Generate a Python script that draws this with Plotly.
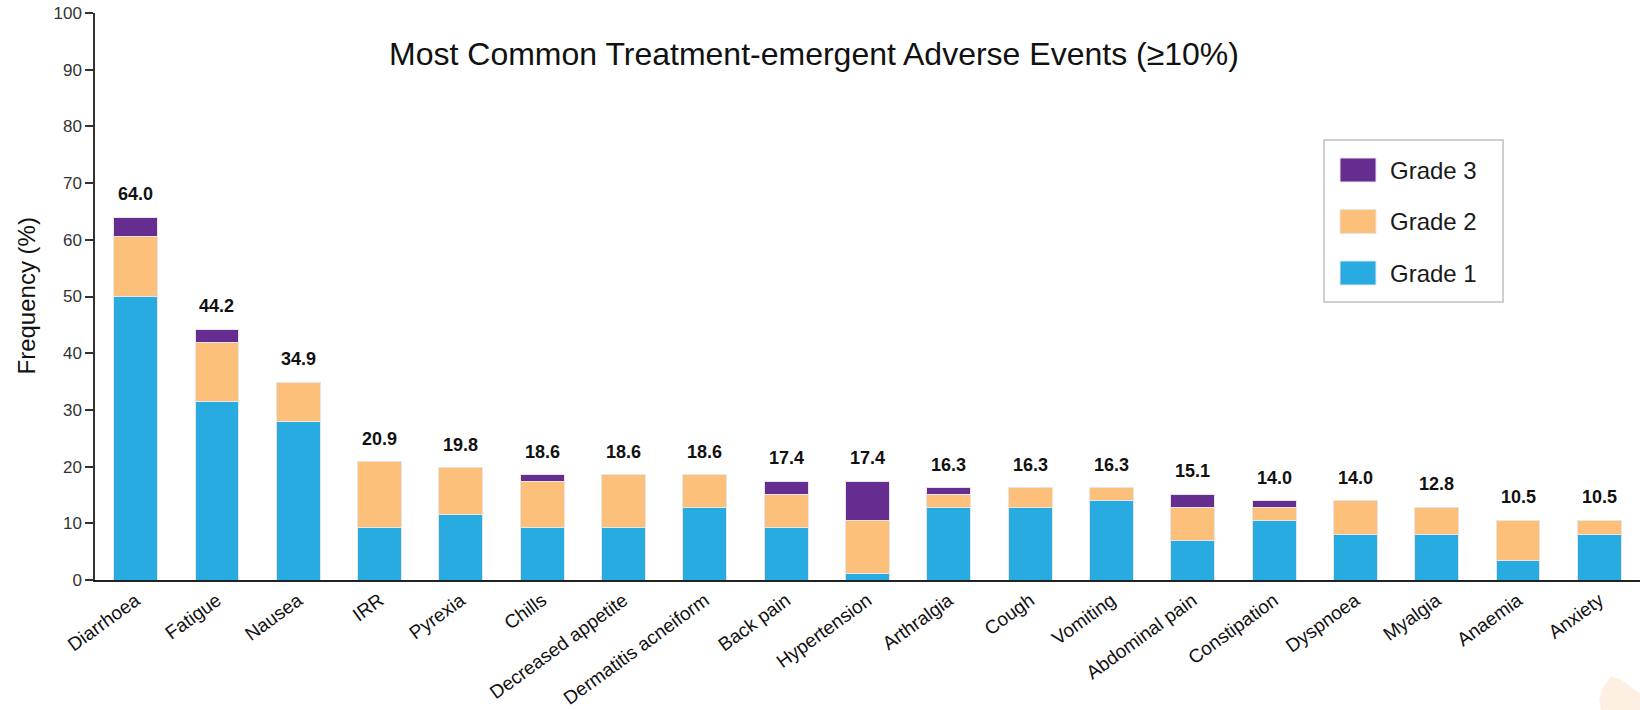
import plotly.graph_objects as go

# Adverse events, ordered by overall frequency
events = [
    "Diarrhoea", "Fatigue", "Nausea", "IRR", "Pyrexia", "Chills",
    "Decreased appetite", "Dermatitis acneiform", "Back pain", "Hypertension",
    "Arthralgia", "Cough", "Vomiting", "Abdominal pain", "Constipation",
    "Dyspnoea", "Myalgia", "Anaemia", "Anxiety",
]

# Frequency (%) by CTCAE grade
grade1 = [50.0, 31.4, 27.9, 9.3, 11.6, 9.3, 9.3, 12.8, 9.3, 1.2,
          12.8, 12.8, 14.0, 7.0, 10.5, 8.1, 8.1, 3.5, 8.1]
grade2 = [10.5, 10.5, 7.0, 11.6, 8.2, 8.1, 9.3, 5.8, 5.8, 9.3,
          2.3, 3.5, 2.3, 5.8, 2.3, 5.9, 4.7, 7.0, 2.4]
grade3 = [3.5, 2.3, 0.0, 0.0, 0.0, 1.2, 0.0, 0.0, 2.3, 6.9,
          1.2, 0.0, 0.0, 2.3, 1.2, 0.0, 0.0, 0.0, 0.0]

# Overall frequency shown above each bar
totals = [64.0, 44.2, 34.9, 20.9, 19.8, 18.6, 18.6, 18.6, 17.4, 17.4,
          16.3, 16.3, 16.3, 15.1, 14.0, 14.0, 12.8, 10.5, 10.5]

y_ticks = [0, 10, 20, 30, 40, 50, 60, 70, 80, 90, 100]

series = [
    ("Grade 1", grade1, "#27ABE1"),
    ("Grade 2", grade2, "#FCC07B"),
    ("Grade 3", grade3, "#662D91"),
]

FONT = "Arial, 'Liberation Sans', Helvetica, sans-serif"

W, H = 1640, 710
M_L, M_R, M_T, M_B = 95, 0, 13, 130
PW = W - M_L - M_R
PH = H - M_T - M_B


def px_x(x):
    """Pixel column -> paper x."""
    return (x - M_L) / PW


def px_y(y):
    """Pixel row -> paper y."""
    return (H - M_B - y) / PH


fig = go.Figure()
for name, vals, color in series:
    fig.add_trace(go.Bar(
        x=events, y=vals, name=name,
        marker=dict(color=color, line=dict(color="#e9e4e4", width=1)),
        showlegend=False,
        hoverinfo="x+y+name",
    ))

# Total labels
for ev, tot in zip(events, totals):
    fig.add_annotation(
        x=ev, y=tot, xref="x", yref="y",
        text=f"<b>{tot:.1f}</b>", showarrow=False,
        yanchor="middle", yshift=23,
        font=dict(family=FONT, size=18, color="#111111"),
    )

# Y axis title
fig.add_annotation(
    x=0, y=0.5, xref="paper", yref="paper", xshift=-69,
    text="Frequency (%)", textangle=-90, showarrow=False,
    xanchor="center", yanchor="middle",
    font=dict(family=FONT, size=24, color="#111111"),
)

# Legend box with large swatches
shapes = [dict(
    type="rect", xref="paper", yref="paper",
    x0=px_x(1324), x1=px_x(1503), y0=px_y(302), y1=px_y(140),
    line=dict(color="#cfcfcf", width=2), fillcolor="white", layer="above",
)]
legend_rows = [("Grade 3", "#662D91", 170), ("Grade 2", "#FCC07B", 221.5),
               ("Grade 1", "#27ABE1", 273)]
for label, color, cy in legend_rows:
    shapes.append(dict(
        type="rect", xref="paper", yref="paper",
        x0=px_x(1340), x1=px_x(1376), y0=px_y(cy + 12), y1=px_y(cy - 12),
        line=dict(color="#e9e4e4", width=1), fillcolor=color, layer="above",
    ))
    fig.add_annotation(
        x=px_x(1388), y=px_y(cy), xref="paper", yref="paper",
        text=label, showarrow=False, xanchor="left", yanchor="middle",
        font=dict(family=FONT, size=24, color="#1a1a1a"),
    )

# Faint corner mark
corner = [(1611, 676), (1603, 688), (1599, 700), (1601, 710), (1640, 710),
          (1640, 694), (1622, 680)]
corner_path = "M " + " L ".join(f"{px_x(x):.4f},{px_y(y):.4f}" for x, y in corner) + " Z"
shapes.append(dict(
    type="path", xref="paper", yref="paper", path=corner_path,
    fillcolor="#FDF0E2", line=dict(width=0), layer="below",
))

fig.update_layout(
    width=W, height=H,
    margin=dict(l=M_L, r=M_R, t=M_T, b=M_B, autoexpand=False),
    barmode="stack", bargap=0.46,
    plot_bgcolor="white", paper_bgcolor="white",
    font=dict(family=FONT, color="#222222"),
    title=dict(
        text="Most Common Treatment-emergent Adverse Events (≥10%)",
        x=814 / W, xanchor="center", xref="container",
        y=1 - 54 / H, yanchor="middle", yref="container",
        font=dict(family=FONT, size=32, color="#111111"),
    ),
    shapes=shapes,
    showlegend=False,
)

fig.update_xaxes(
    showline=True, linecolor="#222222", linewidth=2,
    ticks="", showgrid=False, zeroline=False,
    tickangle=-36, tickfont=dict(family=FONT, size=19, color="#111111"),
    range=[-0.5, len(events) - 0.5],
)
fig.update_yaxes(
    range=[0, 100], tickvals=y_ticks, ticktext=[str(t) for t in y_ticks],
    showline=True, linecolor="#333333", linewidth=1.5,
    ticks="outside", ticklen=8, tickcolor="#333333", tickwidth=1.5,
    showgrid=False, zeroline=False,
    tickfont=dict(family=FONT, size=17, color="#333333"),
)

fig.write_html("out.html")
